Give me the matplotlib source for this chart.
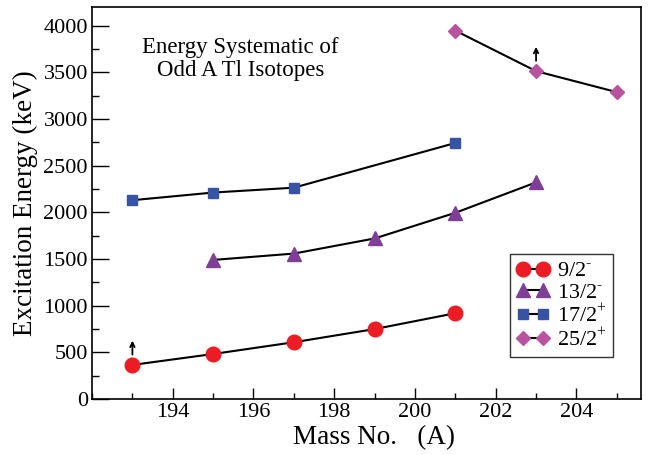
import matplotlib
matplotlib.use("Agg")
import matplotlib.pyplot as plt
from matplotlib.ticker import MultipleLocator, FixedLocator

plt.rcParams['font.family'] = ['Liberation Serif', 'DejaVu Serif']
plt.rcParams['mathtext.fontset'] = 'custom'
plt.rcParams['mathtext.rm'] = 'Liberation Serif'

mass_92 = [193, 195, 197, 199, 201]
e_92 = [365, 482, 608, 749, 919]
mass_132 = [195, 197, 199, 201, 203]
e_132 = [1490, 1558, 1720, 1995, 2321]
mass_172 = [193, 195, 197, 201]
e_172 = [2130, 2212, 2264, 2743]
mass_252 = [201, 203, 205]
e_252 = [3947, 3513, 3288]
labels = ['9/2$^{\\text{-}}$', '13/2$^{\\text{-}}$', '17/2$^{+}$', '25/2$^{+}$']
arrow_points = [(193, 365), (203, 3513)]
x_ticks = [194, 196, 198, 200, 202, 204]

fig = plt.figure(figsize=(6.49, 4.55), dpi=100)
ax = fig.add_axes([0.1418, 0.1231, 0.8459, 0.8615])

ax.plot(mass_92, e_92, color='black', lw=1.5, marker='o', ms=10.5,
        mfc='#ec1c24', mec='#ec1c24', label=labels[0])
ax.plot(mass_132, e_132, color='black', lw=1.5, marker='^', ms=10.5,
        mfc='#7f3f98', mec='#7f3f98', label=labels[1])
ax.plot(mass_172, e_172, color='black', lw=1.5, marker='s', ms=7.5,
        mfc='#3953a4', mec='#3953a4', label=labels[2])
ax.plot(mass_252, e_252, color='black', lw=1.5, marker='D', ms=7.5,
        mfc='#b9529f', mec='#b9529f', label=labels[3])

for (x, y) in arrow_points:
    ax.annotate('', xy=(x, y + 260), xytext=(x, y + 110),
                arrowprops=dict(arrowstyle='->', color='black', lw=1.3,
                                mutation_scale=8, shrinkA=0, shrinkB=0))

ax.set_xlim(192, 205.6)
ax.set_ylim(0, 4200)
ax.xaxis.set_major_locator(FixedLocator(x_ticks))
ax.xaxis.set_minor_locator(MultipleLocator(1))
ax.yaxis.set_major_locator(MultipleLocator(500))
ax.yaxis.set_minor_locator(MultipleLocator(250))
ax.tick_params(axis='both', which='both', direction='in', labelsize=16,
               width=1)
ax.tick_params(axis='y', which='major', length=12, pad=3)
ax.tick_params(axis='y', which='minor', length=5)
ax.tick_params(axis='x', which='major', length=8, pad=3)
ax.tick_params(axis='x', which='minor', length=4.5)
for s in ax.spines.values():
    s.set_linewidth(1.2)

ax.set_xlabel('Mass No.   (A)', fontsize=19.5, labelpad=2)
ax.xaxis.label.set_x(0.514)
ax.set_ylabel('Excitation Energy (keV)', fontsize=19.5, labelpad=4)

ax.text(0.27, 0.868, 'Energy Systematic of\nOdd A Tl Isotopes',
        transform=ax.transAxes, ha='center', va='center', fontsize=16.5,
        linespacing=1.12)

leg = ax.legend(loc='lower right', bbox_to_anchor=(0.949, 0.107),
                numpoints=2, fontsize=16, frameon=True, fancybox=False,
                edgecolor='black', handlelength=1.5, handletextpad=0.3,
                labelspacing=0.05, borderpad=0.3, borderaxespad=0)
leg.get_frame().set_linewidth(1.0)

fig.savefig('out.png', dpi=100)
